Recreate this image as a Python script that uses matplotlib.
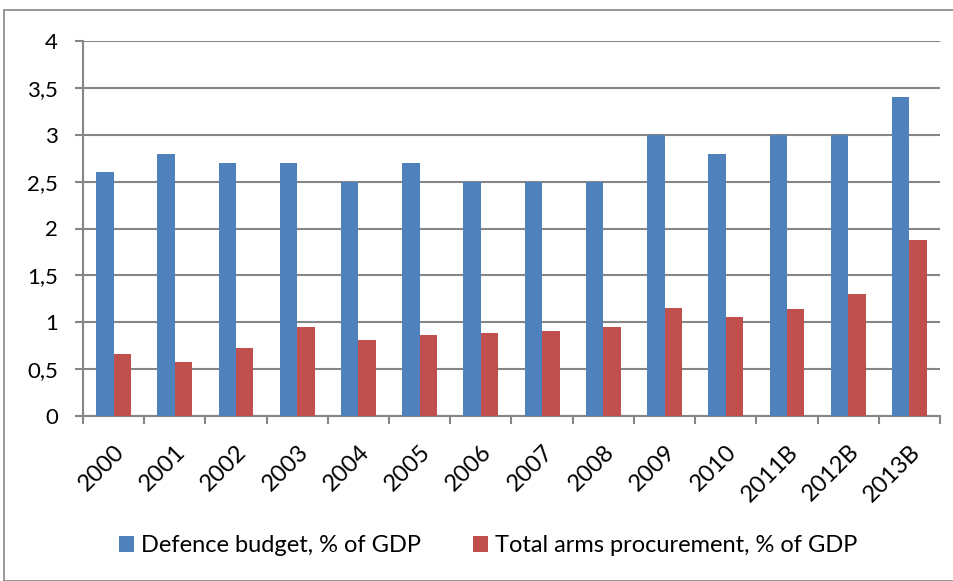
import numpy as np
import matplotlib
matplotlib.use("Agg")
from matplotlib import pyplot as plt
from matplotlib.patches import Rectangle
from matplotlib.transforms import ScaledTranslation

years = ["2000", "2001", "2002", "2003", "2004", "2005", "2006",
         "2007", "2008", "2009", "2010", "2011B", "2012B", "2013B"]
defence_budget = [2.6, 2.8, 2.7, 2.7, 2.5, 2.7, 2.5, 2.5, 2.5, 3.0, 2.8, 3.0, 3.0, 3.4]
arms_procurement = [0.66, 0.58, 0.73, 0.95, 0.81, 0.86, 0.89, 0.91, 0.95,
                    1.15, 1.06, 1.14, 1.30, 1.88]

blue = "#4f81bd"
red = "#c0504d"
grey = "#868686"

plt.rcParams['font.family'] = ['Lato', 'DejaVu Sans']

fig = plt.figure(figsize=(9.54, 5.81), dpi=100)
# outer chart frame
fig.patches.append(Rectangle((4 / 954, 0), 1.2, (581 - 10) / 581, transform=fig.transFigure,
                             fill=False, edgecolor=grey, linewidth=1.2))

ax = fig.add_axes([83 / 954, 1 - 416 / 581, (940 - 83) / 954, (416 - 41) / 581])

x = np.arange(len(years))
w = 0.285
ax.bar(x - w / 2, defence_budget, w, color=blue, label="Defence budget, % of GDP", zorder=3)
ax.bar(x + w / 2, arms_procurement, w, color=red, label="Total arms procurement, % of GDP", zorder=3)

ax.set_xlim(-0.5, len(years) - 0.5)
ax.set_ylim(0, 4)
ax.set_yticks(np.arange(0, 4.01, 0.5))
ax.set_yticklabels(["0", "0,5", "1", "1,5", "2", "2,5", "3", "3,5", "4"], fontsize=16)
ax.yaxis.grid(True, color=grey, linewidth=1.5, zorder=0)

ax.set_xticks(x)
ax.set_xticklabels(years, rotation=45, ha="right", va="top", rotation_mode="anchor", fontsize=17)
shift = ScaledTranslation(6 / 100, 0, fig.dpi_scale_trans)
for lbl in ax.get_xticklabels():
    lbl.set_transform(lbl.get_transform() + shift)
ax.set_xticks(np.arange(-0.5, len(years), 1), minor=True)
ax.tick_params(axis="x", which="major", length=0, pad=18)
ax.tick_params(axis="x", which="minor", length=6, color=grey, width=1.5)
ax.tick_params(axis="y", length=6, color=grey, width=1.5, pad=12)

for side in ["top", "right"]:
    ax.spines[side].set_visible(False)
for side in ["left", "bottom"]:
    ax.spines[side].set_color(grey)
    ax.spines[side].set_linewidth(1.5)

fig.legend(loc="center", bbox_to_anchor=(488 / 954, 1 - 546 / 581), ncol=2, frameon=False,
           fontsize=17, handlelength=0.64, handleheight=0.64, handletextpad=0.3,
           columnspacing=2.2)

fig.savefig("out.png", dpi=100)
